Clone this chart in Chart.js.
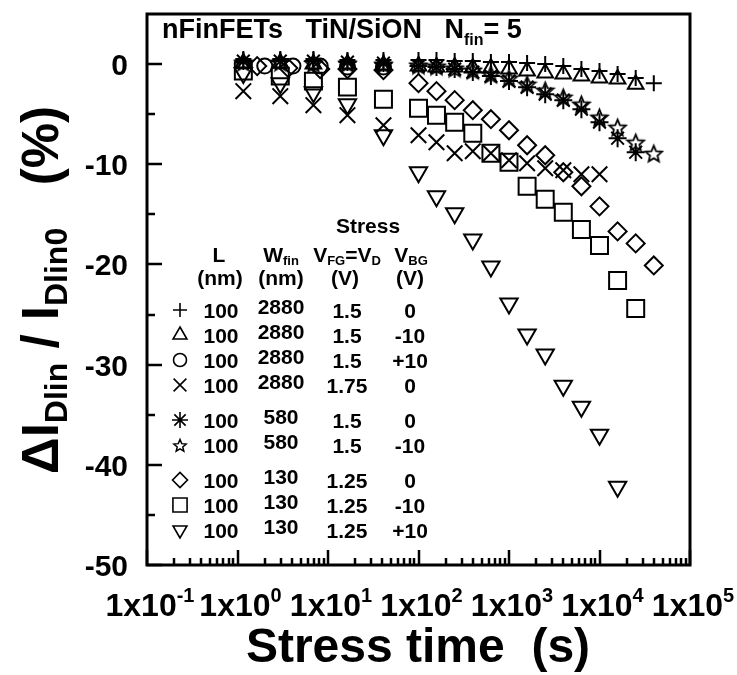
<!DOCTYPE html>
<html>
<head>
<meta charset="utf-8">
<title>nFinFET drain current degradation</title>
<script src="https://cdn.jsdelivr.net/npm/chart.js@4.4.1/dist/chart.umd.min.js"></script>
<style>
  html, body { margin: 0; padding: 0; background: #ffffff; }
  #wrap { width: 737px; height: 675px; }
</style>
</head>
<body>
<div id="wrap"><canvas id="chart" width="737" height="675"></canvas></div>
<script>
/* ------------------------------------------------------------
   Stress time (s) sampling
------------------------------------------------------------ */
var earlyTimes = [1.16, 2.97, 6.9, 16.4, 41];
var lateTimes  = [100, 158, 251, 398, 631, 1000, 1585, 2512, 3981, 6310, 10000, 15849, 25119, 39811];
var circleTimes  = [2.0, 4.1, 8.2, 16.4, 41];
var diamondTimes = [1.65, 3.64, 8.2, 16.4, 41];

/* ------------------------------------------------------------
   dIDlin / IDlin0 (%) per device / stress condition
------------------------------------------------------------ */
var plusEarly    = [0.5, 0.5, 0.5, 0.4, 0.4];
var plusLate     = [0.4, 0.4, 0.3, 0.3, 0.2, 0.2, 0.1, 0.0, -0.2, -0.5, -0.7, -1.0, -1.4, -1.9];
var triEarly     = [0.1, 0.1, 0.0, 0.0, -0.1];
var triLate      = [-0.2, -0.3, -0.3, -0.4, -0.4, -0.5, -0.7, -0.9, -1.0, -1.2, -1.4, -1.5, -2.0];
var circleVals   = [-0.2, -0.2, -0.2, -0.3, -0.3];
var xEarly       = [-2.7, -3.2, -4.1, -5.1, -6.1];
var xLate        = [-7.1, -7.8, -8.9, -8.7, -8.9, -9.6, -9.9, -10.4, -10.6, -11.0, -11.0];
var astEarly     = [0.3, 0.3, 0.3, 0.2, 0.1];
var astLate      = [-0.2, -0.3, -0.5, -0.8, -1.2, -1.7, -2.3, -3.0, -3.6, -4.5, -5.8, -7.4, -8.8];
var starEarly    = [0.2, 0.2, 0.1, 0.1, 0.0];
var starLate     = [-0.1, -0.2, -0.4, -0.6, -1.0, -1.4, -2.0, -2.6, -3.3, -4.0, -5.3, -6.3, -7.8, -8.9];
var diamondEarly = [-0.2, -0.4, -0.5, -0.5, -0.6];
var diamondLate  = [-1.9, -2.7, -3.6, -4.6, -5.5, -6.6, -8.1, -9.1, -10.8, -12.2, -14.2, -16.7, -17.9, -20.1];
var squareEarly  = [-0.7, -1.2, -1.7, -2.3, -3.5];
var squareLate   = [-4.4, -5.1, -5.8, -6.9, -8.9, -9.8, -12.2, -13.5, -14.8, -16.5, -18.1, -21.6, -24.4];
var downEarly    = [-0.9, -1.9, -2.8, -4.0, -7.1];
var downLate     = [-10.8, -13.2, -14.9, -17.5, -20.2, -23.9, -27.0, -29.0, -32.1, -34.2, -37.0, -42.2];

/* ------------------------------------------------------------
   Axis ticks and legend table
------------------------------------------------------------ */
var xDecades   = [-1, 0, 1, 2, 3, 4, 5];
var yMajor     = [0, -10, -20, -30, -40, -50];
var yMinor     = [-5, -15, -25, -35, -45];
var tableL     = ['100', '100', '100', '100', '100', '100', '100', '100', '100'];
var tableW     = ['2880', '2880', '2880', '2880', '580', '580', '130', '130', '130'];
var tableVFG   = ['1.5', '1.5', '1.5', '1.75', '1.5', '1.5', '1.25', '1.25', '1.25'];
var tableVBG   = ['0', '-10', '+10', '0', '0', '-10', '0', '-10', '+10'];

var FONT = '"Liberation Sans", Arial, Helvetica, sans-serif';

function pts(times, vals) {
  return vals.map(function (v, i) { return { x: times[i], y: v }; });
}

// outlined five-point star used as a point style
function starImage(size, lw) {
  var c = document.createElement('canvas');
  c.width = size; c.height = size;
  var g = c.getContext('2d');
  var cx = size / 2, cy = size / 2 + 1, R = size / 2 - lw, r = R * 0.45;
  g.beginPath();
  for (var i = 0; i < 10; i++) {
    var a = -Math.PI / 2 + i * Math.PI / 5;
    var rr = i % 2 ? r : R;
    g.lineTo(cx + rr * Math.cos(a), cy + rr * Math.sin(a));
  }
  g.closePath();
  g.lineWidth = lw;
  g.strokeStyle = '#000';
  g.stroke();
  return c;
}
var STAR_BIG = starImage(21, 1.8);
var STAR_SMALL = starImage(16, 1.5);

/* text helpers: runs of {t, s, dy} drawn side by side */
function runWidth(ctx, parts) {
  var w = 0;
  parts.forEach(function (p) {
    ctx.font = 'bold ' + p.s + 'px ' + FONT;
    w += ctx.measureText(p.t).width;
  });
  return w;
}
function drawRun(ctx, parts, x, y, align) {
  var w = runWidth(ctx, parts);
  var px = align === 'center' ? x - w / 2 : (align === 'right' ? x - w : x);
  ctx.save();
  ctx.textAlign = 'left';
  ctx.textBaseline = 'alphabetic';
  ctx.fillStyle = '#000';
  parts.forEach(function (p) {
    ctx.font = 'bold ' + p.s + 'px ' + FONT;
    ctx.fillText(p.t, px, y + (p.dy || 0));
    px += ctx.measureText(p.t).width;
  });
  ctx.restore();
}

/* ------------------------------------------------------------
   Frame, inward ticks, tick labels and axis titles
------------------------------------------------------------ */
var axesPlugin = {
  id: 'axesPlugin',
  afterDraw: function (chart) {
    var ctx = chart.ctx, a = chart.chartArea;
    var xs = chart.scales.x, ys = chart.scales.y;
    ctx.save();
    ctx.strokeStyle = '#000';
    ctx.lineWidth = 3;
    ctx.strokeRect(a.left, a.top, a.right - a.left, a.bottom - a.top);

    ctx.lineWidth = 2.5;
    ctx.beginPath();
    yMajor.forEach(function (v) {
      var y = Math.round(ys.getPixelForValue(v));
      ctx.moveTo(a.left, y); ctx.lineTo(a.left + 15, y);
    });
    yMinor.forEach(function (v) {
      var y = Math.round(ys.getPixelForValue(v));
      ctx.moveTo(a.left, y); ctx.lineTo(a.left + 8, y);
    });
    xDecades.forEach(function (e) {
      var x = Math.round(xs.getPixelForValue(Math.pow(10, e)));
      ctx.moveTo(x, a.bottom); ctx.lineTo(x, a.bottom - 15);
      if (e < 5) {
        for (var m = 2; m <= 9; m++) {
          var xm = Math.round(xs.getPixelForValue(m * Math.pow(10, e)));
          ctx.moveTo(xm, a.bottom); ctx.lineTo(xm, a.bottom - 7);
        }
      }
    });
    ctx.stroke();

    yMajor.forEach(function (v) {
      var y = ys.getPixelForValue(v);
      drawRun(ctx, [{ t: String(v), s: 30 }], a.left - 19, y + 11, 'right');
    });
    xDecades.forEach(function (e) {
      var x = xs.getPixelForValue(Math.pow(10, e));
      drawRun(ctx, [{ t: '1x10', s: 32 }, { t: String(e), s: 20, dy: -14 }], x + 3, 616, 'center');
    });

    drawRun(ctx, [{ t: 'Stress time  (s)', s: 48 }], 418, 662, 'center');

    ctx.save();
    ctx.translate(58, 290);
    ctx.rotate(-Math.PI / 2);
    drawRun(ctx, [
      { t: '\u0394I', s: 51 }, { t: 'Dlin', s: 32, dy: 9 },
      { t: ' / I', s: 51 }, { t: 'Dlin0', s: 32, dy: 9 },
      { t: '   (%)', s: 51 }
    ], 0, 0, 'center');
    ctx.restore();

    ctx.restore();
  }
};

/* ------------------------------------------------------------
   Device header and legend table
------------------------------------------------------------ */
var legendSymbols = [
  { pointStyle: 'cross', radius: 7 },
  { pointStyle: 'triangle', radius: 8 },
  { pointStyle: 'circle', radius: 6.5 },
  { pointStyle: 'crossRot', radius: 9 },
  { pointStyle: 'star', radius: 8 },
  { pointStyle: STAR_SMALL, radius: 8 },
  { pointStyle: 'rectRot', radius: 7.5 },
  { pointStyle: 'rect', radius: 10 },
  { pointStyle: 'triangle', radius: 8, rotation: 180 }
];
var rowCenters = [310, 335, 360, 385, 420, 445, 480, 505, 530];

var tablePlugin = {
  id: 'tablePlugin',
  afterDraw: function (chart) {
    var ctx = chart.ctx;
    ctx.save();
    drawRun(ctx, [{ t: 'nFinFETs   TiN/SiON   N', s: 27 }, { t: 'fin', s: 16, dy: 7 }, { t: '= 5', s: 27 }], 162, 38, 'left');

    drawRun(ctx, [{ t: 'Stress', s: 21 }], 368, 233, 'center');
    drawRun(ctx, [{ t: 'L', s: 21 }], 219, 262, 'center');
    drawRun(ctx, [{ t: 'W', s: 21 }, { t: 'fin', s: 13, dy: 3 }], 281, 262, 'center');
    drawRun(ctx, [{ t: 'V', s: 21 }, { t: 'FG', s: 13, dy: 3 }, { t: '=V', s: 21 }, { t: 'D', s: 13, dy: 3 }], 347, 262, 'center');
    drawRun(ctx, [{ t: 'V', s: 21 }, { t: 'BG', s: 13, dy: 3 }], 411, 262, 'center');
    drawRun(ctx, [{ t: '(nm)', s: 21 }], 220, 285, 'center');
    drawRun(ctx, [{ t: '(nm)', s: 21 }], 281, 285, 'center');
    drawRun(ctx, [{ t: '(V)', s: 21 }], 345, 285, 'center');
    drawRun(ctx, [{ t: '(V)', s: 21 }], 410, 285, 'center');

    ctx.strokeStyle = '#000';
    rowCenters.forEach(function (y, i) {
      var sym = legendSymbols[i];
      ctx.lineWidth = 1.6;
      ctx.fillStyle = 'rgba(0,0,0,0)';
      Chart.helpers.drawPoint(ctx, {
        pointStyle: sym.pointStyle, radius: sym.radius,
        rotation: sym.rotation || 0, borderWidth: 1.6
      }, 180, y);
      drawRun(ctx, [{ t: tableL[i], s: 21 }], 221, y + 8, 'center');
      drawRun(ctx, [{ t: tableW[i], s: 21 }], 281, y + 4, 'center');
      drawRun(ctx, [{ t: tableVFG[i], s: 21 }], 347, y + 8, 'center');
      drawRun(ctx, [{ t: tableVBG[i], s: 21 }], 410, y + 8, 'center');
    });
    ctx.restore();
  }
};

function series(label, data, style, radius, rotation) {
  return {
    label: label,
    data: data,
    showLine: false,
    pointStyle: style,
    pointRadius: radius,
    pointRotation: rotation || 0,
    pointBorderWidth: 2,
    pointBorderColor: '#000',
    pointBackgroundColor: 'rgba(0,0,0,0)'
  };
}

new Chart(document.getElementById('chart'), {
  type: 'scatter',
  data: {
    datasets: [
      series('100/2880 1.5V 0V', pts(earlyTimes, plusEarly).concat(pts(lateTimes, plusLate)), 'cross', 8),
      series('100/2880 1.5V -10V', pts(earlyTimes, triEarly).concat(pts(lateTimes, triLate)), 'triangle', 9),
      series('100/2880 1.5V +10V', pts(circleTimes, circleVals), 'circle', 7.5),
      series('100/2880 1.75V 0V', pts(earlyTimes, xEarly).concat(pts(lateTimes, xLate)), 'crossRot', 11),
      series('100/580 1.5V 0V', pts(earlyTimes, astEarly).concat(pts(lateTimes, astLate)), 'star', 9),
      series('100/580 1.5V -10V', pts(earlyTimes, starEarly).concat(pts(lateTimes, starLate)), STAR_BIG, 10),
      series('100/130 1.25V 0V', pts(diamondTimes, diamondEarly).concat(pts(lateTimes, diamondLate)), 'rectRot', 9),
      series('100/130 1.25V -10V', pts(earlyTimes, squareEarly).concat(pts(lateTimes, squareLate)), 'rect', 12),
      series('100/130 1.25V +10V', pts(earlyTimes, downEarly).concat(pts(lateTimes, downLate)), 'triangle', 10, 180)
    ]
  },
  options: {
    responsive: false,
    animation: false,
    devicePixelRatio: 1,
    layout: { padding: { top: 7, right: 47, left: 0, bottom: 0 } },
    plugins: { legend: { display: false }, tooltip: { enabled: false } },
    scales: {
      x: {
        type: 'logarithmic', min: 0.1, max: 1e5,
        ticks: { display: false },
        grid: { display: false, drawTicks: false },
        border: { display: false },
        afterFit: function (s) { s.height = 110; }
      },
      y: {
        type: 'linear', min: -50, max: 5,
        ticks: { display: false },
        grid: { display: false, drawTicks: false },
        border: { display: false },
        afterFit: function (s) { s.width = 147; }
      }
    }
  },
  plugins: [axesPlugin, tablePlugin]
});
</script>
</body>
</html>
